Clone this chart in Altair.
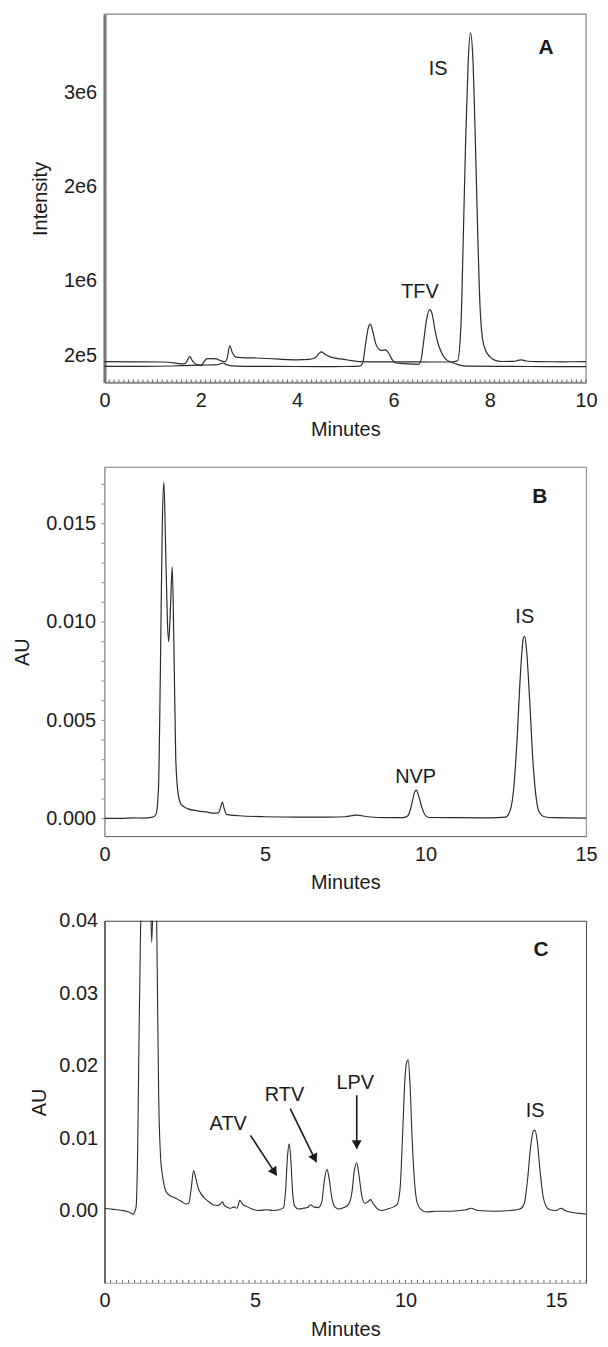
import math
import altair as alt
import pandas as pd

FONT = "Liberation Sans"
INK = "#1a1a1a"

# ---------------- Panel A (LC-MS/MS, two overlaid traces) ----------------
a_is_t = [0.0, 0.6, 1.2, 1.45, 1.6, 1.68, 1.73, 1.77, 1.82, 1.9, 2.0, 2.06, 2.12, 2.2, 2.32,
          2.4, 2.5, 2.55, 2.6, 2.65, 2.72, 2.85, 3.1, 3.4, 3.7, 4.0, 4.25, 4.38, 4.46, 4.5,
          4.58, 4.7, 4.9, 5.1, 5.3, 5.6, 6.2, 6.8, 7.2, 7.33, 7.4, 7.45, 7.5, 7.55, 7.6,
          7.65, 7.7, 7.75, 7.8, 7.85, 7.92, 8.0, 8.1, 8.25, 8.5, 8.6, 8.66, 8.75, 9.0, 9.5, 10.0]
a_is_v = [136000, 135000, 133000, 124000, 112000, 118000, 160000, 190000, 150000, 108000,
          96000, 130000, 165000, 168000, 166000, 150000, 135000, 180000, 305000, 240000,
          188000, 180000, 176000, 170000, 160000, 155000, 160000, 180000, 225000, 240000,
          215000, 185000, 165000, 150000, 137000, 134000, 134000, 133000, 133000, 145000,
          500000, 1450000, 2500000, 3300000, 3630000, 3350000, 2500000, 1500000, 700000,
          380000, 250000, 190000, 152000, 138000, 140000, 152000, 156000, 143000, 136000,
          135000, 136000]

a_tfv_t = [0.0, 0.8, 1.4, 1.7, 2.0, 2.3, 2.4, 2.46, 2.52, 2.65, 2.9, 3.5, 4.5, 5.0, 5.3,
           5.36, 5.42, 5.48, 5.52, 5.57, 5.63, 5.7, 5.76, 5.83, 5.9, 5.97, 6.05, 6.2, 6.4,
           6.52, 6.57, 6.62, 6.68, 6.75, 6.8, 6.86, 6.92, 7.0, 7.08, 7.18, 7.3, 7.42, 7.6,
           8.5, 9.2, 10.0]
a_tfv_v = [86000, 86000, 90000, 95000, 100000, 102000, 112000, 122000, 108000, 92000,
           87000, 86000, 84000, 85000, 88000, 120000, 320000, 500000, 535000, 460000,
           330000, 268000, 255000, 262000, 228000, 160000, 122000, 116000, 110000, 108000,
           150000, 320000, 560000, 690000, 650000, 480000, 340000, 230000, 165000, 135000,
           112000, 95000, 88000, 86000, 84000, 84000]

a_lab_text = ["A", "IS", "TFV"]
a_lab_t = [9.17, 6.93, 6.55]
a_lab_v = [3470000, 3250000, 880000]
a_lab_bold = ["bold", "normal", "normal"]

a_x_major = [0, 2, 4, 6, 8, 10]
a_y_major = [200000, 1000000, 2000000, 3000000]
a_x_minor = [round(i * 0.1, 1) for i in range(101)]

# ---------------- Panel B (UV, NVP) ----------------
b_t = [0.0, 0.5, 0.9, 1.2, 1.5, 1.6, 1.68, 1.74, 1.8, 1.85, 1.9, 1.96, 2.0, 2.06, 2.11,
       2.16, 2.22, 2.3, 2.4, 2.6, 2.9, 3.2, 3.4, 3.55, 3.62, 3.67, 3.73, 3.8, 4.2, 5.0,
       6.0, 7.0, 7.5, 7.85, 8.2, 8.8, 9.3, 9.45, 9.55, 9.65, 9.71, 9.78, 9.88, 9.98,
       10.1, 11.0, 12.0, 12.5, 12.65, 12.75, 12.85, 12.95, 13.05, 13.09, 13.15, 13.25,
       13.35, 13.45, 13.55, 13.7, 14.0, 15.0]
b_v = [0.00002, 0.00002, 0.00004, 0.00003, 0.00008, 0.0002, 0.0015, 0.0075, 0.0150,
       0.0171, 0.0140, 0.0100, 0.0090, 0.0110, 0.0128, 0.0090, 0.0030, 0.0012, 0.0007,
       0.0005, 0.0004, 0.00033, 0.00028, 0.0003, 0.0006, 0.00085, 0.0005, 0.00022,
       0.00015, 0.0001, 0.00008, 0.00008, 0.0001, 0.00018, 0.0001, 0.00005, 0.00005,
       0.00015, 0.0006, 0.0013, 0.00145, 0.0012, 0.0006, 0.0002, 0.00006, 0.00005,
       0.00004, 0.00008, 0.0005, 0.0016, 0.0040, 0.0072, 0.0092, 0.00927, 0.0085,
       0.0058, 0.0028, 0.0010, 0.0003, 0.0001, 0.00005, 0.00003]

b_lab_text = ["B", "IS", "NVP"]
b_lab_t = [13.56, 13.09, 9.69]
b_lab_v = [0.01637, 0.01025, 0.00212]
b_lab_bold = ["bold", "normal", "normal"]

b_x_major = [0, 5, 10, 15]
b_y_major = [0.0, 0.005, 0.010, 0.015]
b_y_minor = [round(i * 0.001, 3) for i in range(18)]

# ---------------- Panel C (UV, ATV / RTV / LPV) ----------------
c_t = [0.0, 0.2, 0.4, 0.6, 0.8, 0.9, 0.95, 1.0, 1.05, 1.1, 1.15, 1.22, 1.3, 1.45, 1.52,
       1.57, 1.62, 1.68, 1.72, 1.76, 1.8, 1.86, 1.95, 2.06, 2.2, 2.31, 2.45, 2.57, 2.7,
       2.8, 2.88, 2.96, 3.03, 3.12, 3.21, 3.3, 3.41, 3.5, 3.6, 3.75, 3.85, 3.92, 3.98,
       4.1, 4.18, 4.3, 4.4, 4.5, 4.6, 4.75, 4.9, 5.1, 5.4, 5.6, 5.8, 5.95, 6.02, 6.08,
       6.14, 6.19, 6.25, 6.32, 6.45, 6.6, 6.75, 6.84, 6.95, 7.1, 7.22, 7.3, 7.39, 7.46,
       7.55, 7.65, 7.8, 7.95, 8.1, 8.22, 8.3, 8.38, 8.45, 8.55, 8.65, 8.75, 8.84, 8.92,
       9.05, 9.2, 9.4, 9.6, 9.72, 9.82, 9.9, 9.98, 10.04, 10.09, 10.15, 10.22, 10.3,
       10.38, 10.5, 10.7, 11.0, 11.5, 12.0, 12.19, 12.4, 13.0, 13.5, 13.8, 13.95, 14.05,
       14.15, 14.25, 14.3, 14.38, 14.47, 14.57, 14.67, 14.8, 15.0, 15.17, 15.3, 15.6,
       15.8, 16.0]
c_v = [0.0003, 0.0002, 0.0001, 0.0, -0.0002, -0.0004, -0.0005, -0.0002, 0.0005, 0.008,
       0.025, 0.045, 0.060, 0.055, 0.045, 0.037, 0.045, 0.060, 0.045, 0.030, 0.016,
       0.0076, 0.0042, 0.0025, 0.0020, 0.0018, 0.0015, 0.0012, 0.0009, 0.0010, 0.0030,
       0.0055, 0.0045, 0.0030, 0.0023, 0.0018, 0.0014, 0.0011, 0.0008, 0.0007, 0.0009,
       0.0012, 0.0007, 0.0004, 0.0003, 0.0005, 0.0003, 0.0014, 0.0008, 0.0005, 0.0002,
       0.0, 0.0001, 0.0, 0.0001, 0.0004, 0.0030, 0.0075, 0.0092, 0.0070, 0.0025, 0.0006,
       0.0002, 0.0003, 0.0004, 0.0008, 0.0005, 0.0004, 0.0012, 0.0040, 0.0057, 0.0045,
       0.0018, 0.0005, 0.0002, 0.0004, 0.0008, 0.0025, 0.0055, 0.0066, 0.0050, 0.0020,
       0.0010, 0.0012, 0.0015, 0.0010, 0.0003, 0.0, 0.0002, 0.0005, 0.0008, 0.0030,
       0.0100, 0.0180, 0.0205, 0.0208, 0.0175, 0.0100, 0.0040, 0.0012, 0.0002, -0.0002,
       -0.0001, -0.0001, 0.0001, 0.0003, 0.0, -0.0001, 0.0, 0.0002, 0.0010, 0.0040,
       0.0085, 0.0110, 0.0111, 0.0095, 0.0055, 0.0020, 0.0006, 0.0001, 0.0, 0.0003, 0.0,
       -0.0003, -0.0004, -0.0005]

c_lab_text = ["C", "ATV", "RTV", "LPV", "IS"]
c_lab_t = [14.5, 4.11, 5.98, 8.33, 14.31]
c_lab_v = [0.036, 0.0120, 0.0160, 0.0176, 0.0138]
c_lab_bold = ["bold", "normal", "normal", "normal", "normal"]

c_arrow_t0 = [4.85, 6.17, 8.38]
c_arrow_v0 = [0.01038, 0.01407, 0.01592]
c_arrow_t1 = [5.72, 7.04, 8.38]
c_arrow_v1 = [0.00484, 0.00669, 0.00854]

c_x_major = [0, 5, 10, 15]
c_y_major = [0.0, 0.01, 0.02, 0.03, 0.04]
c_x_minor = [round(i * 0.2, 1) for i in range(81)]

# ---------------- geometry / scales ----------------
W = 484
A_H, B_H, C_H = 370, 371, 364
A_DOM_X, B_DOM_X, C_DOM_X = [0, 10], [0, 15], [0, 16]
A_DOM_Y = [-85000, 3826000]
B_DOM_Y = [-0.00089, 0.01788]
C_DOM_Y = [-0.01, 0.04]
TICK_PX = 3.0


def labels_layer(texts, ts, vs, weights, xs, ys):
    df = pd.DataFrame({"t": ts, "v": vs, "txt": texts, "w": weights})
    normal = alt.Chart(df[df.w == "normal"]).mark_text(
        font=FONT, fontSize=20, color=INK, align="center", baseline="middle")
    bold = alt.Chart(df[df.w == "bold"]).mark_text(
        font=FONT, fontSize=21, color=INK, fontWeight="bold", align="center", baseline="middle")
    enc = dict(x=alt.X("t:Q", scale=xs), y=alt.Y("v:Q", scale=ys), text="txt:N")
    return normal.encode(**enc) + bold.encode(**enc)


def x_minor_ticks(vals, dom_y, height, xs, ys, color):
    """small inward ticks along the bottom edge"""
    dv = TICK_PX / height * (dom_y[1] - dom_y[0])
    df = pd.DataFrame({"t": vals, "v0": dom_y[0], "v1": dom_y[0] + dv})
    return alt.Chart(df).mark_rule(color=color, strokeWidth=1).encode(
        x=alt.X("t:Q", scale=xs), y=alt.Y("v0:Q", scale=ys), y2="v1:Q")


def y_minor_ticks(vals, dom_x, width, xs, ys, color):
    """small outward ticks on the left edge"""
    dt = TICK_PX / width * (dom_x[1] - dom_x[0])
    df = pd.DataFrame({"v": vals, "t0": dom_x[0] - dt, "t1": dom_x[0]})
    return alt.Chart(df).mark_rule(color=color, strokeWidth=1).encode(
        y=alt.Y("v:Q", scale=ys), x=alt.X("t0:Q", scale=xs), x2="t1:Q")


# ---- Panel A ----
a_xs = alt.Scale(domain=A_DOM_X, nice=False, zero=False)
a_ys = alt.Scale(domain=A_DOM_Y, nice=False, zero=False)
a_df = pd.concat([
    pd.DataFrame({"t": a_is_t, "v": a_is_v, "trace": "IS"}),
    pd.DataFrame({"t": a_tfv_t, "v": a_tfv_v, "trace": "TFV"}),
])
a_line = alt.Chart(a_df).mark_line(color="#2b2b2b", strokeWidth=1.2, interpolate="monotone").encode(
    x=alt.X("t:Q", scale=a_xs, axis=alt.Axis(
        title="Minutes", values=a_x_major, format="d", ticks=False,
        domainColor="#888", domainWidth=1.5,
        labelPadding=8, titlePadding=9, labelFlush=False)),
    y=alt.Y("v:Q", scale=a_ys, axis=alt.Axis(
        title="Intensity", values=a_y_major,
        labelExpr="datum.value < 1000000 ? '2e5' : format(datum.value/1000000, 'd') + 'e6'",
        ticks=False, domainColor="#777", domainWidth=3, labelPadding=8, titlePadding=13)),
    detail="trace:N",
)
panel_a = alt.layer(
    a_line,
    x_minor_ticks(a_x_minor, A_DOM_Y, A_H, a_xs, a_ys, "#666"),
    labels_layer(a_lab_text, a_lab_t, a_lab_v, a_lab_bold, a_xs, a_ys)
).properties(width=W, height=A_H, view=alt.ViewBackground(stroke="#9a9a9a", strokeWidth=1.5))

# ---- Panel B ----
b_xs = alt.Scale(domain=B_DOM_X, nice=False, zero=False)
b_ys = alt.Scale(domain=B_DOM_Y, nice=False, zero=False)
b_line = alt.Chart(pd.DataFrame({"t": b_t, "v": b_v})).mark_line(
    color="#2b2b2b", strokeWidth=1.2, interpolate="monotone").encode(
    x=alt.X("t:Q", scale=b_xs, axis=alt.Axis(
        title="Minutes", values=b_x_major, format="d", ticks=False, domainColor="#666",
        labelPadding=8, titlePadding=9, labelFlush=False)),
    y=alt.Y("v:Q", scale=b_ys, axis=alt.Axis(
        title="AU", values=b_y_major, format=".3f",
        ticks=False, domainColor="#999", labelPadding=9, titlePadding=13)),
)
panel_b = alt.layer(
    b_line,
    y_minor_ticks(b_y_minor, B_DOM_X, W, b_xs, b_ys, "#888"),
    labels_layer(b_lab_text, b_lab_t, b_lab_v, b_lab_bold, b_xs, b_ys)
).properties(width=W, height=B_H, view=alt.ViewBackground(stroke="#9a9a9a", strokeWidth=1.2))

# ---- Panel C ----
c_xs = alt.Scale(domain=C_DOM_X, nice=False, zero=False)
c_ys = alt.Scale(domain=C_DOM_Y, nice=False, zero=False)
c_line = alt.Chart(pd.DataFrame({"t": c_t, "v": c_v})).mark_line(
    color="#2b2b2b", strokeWidth=1.1, interpolate="monotone", clip=True).encode(
    x=alt.X("t:Q", scale=c_xs, axis=alt.Axis(
        title="Minutes", values=c_x_major, format="d", ticks=False, domainColor="#bbbbbb",
        labelPadding=8, titlePadding=9, labelFlush=False)),
    y=alt.Y("v:Q", scale=c_ys, axis=alt.Axis(
        title="AU", values=c_y_major, format=".2f",
        ticks=False, domainColor="#333", labelPadding=7, titlePadding=9)),
)

# arrows: shaft + rotated triangular head (angle from pixel geometry)
px_per_t = W / (C_DOM_X[1] - C_DOM_X[0])
px_per_v = C_H / (C_DOM_Y[1] - C_DOM_Y[0])
head_t, head_v, head_ang = [], [], []
for t0, v0, t1, v1 in zip(c_arrow_t0, c_arrow_v0, c_arrow_t1, c_arrow_v1):
    dx = (t1 - t0) * px_per_t
    dy = -(v1 - v0) * px_per_v  # screen y grows downward
    ln = math.hypot(dx, dy)
    ux, uy = dx / ln, dy / ln
    back = 4.0
    head_t.append(t1 - ux * back / px_per_t)
    head_v.append(v1 + uy * back / px_per_v)
    head_ang.append((-math.degrees(math.atan2(dx, dy))) % 360)

arr_df = pd.DataFrame({"t0": c_arrow_t0, "v0": c_arrow_v0, "t1": c_arrow_t1, "v1": c_arrow_v1,
                       "ht": head_t, "hv": head_v, "ang": head_ang})
c_shaft = alt.Chart(arr_df).mark_rule(color=INK, strokeWidth=1.6).encode(
    x=alt.X("t0:Q", scale=c_xs), y=alt.Y("v0:Q", scale=c_ys), x2="t1:Q", y2="v1:Q")
c_head = alt.Chart(arr_df).mark_point(shape="triangle-down", filled=True, color=INK,
                                      opacity=1, size=100).encode(
    x=alt.X("ht:Q", scale=c_xs), y=alt.Y("hv:Q", scale=c_ys),
    angle=alt.Angle("ang:Q", scale=None))

panel_c = alt.layer(
    c_line, c_shaft, c_head,
    x_minor_ticks(c_x_minor, C_DOM_Y, C_H, c_xs, c_ys, "#666"),
    labels_layer(c_lab_text, c_lab_t, c_lab_v, c_lab_bold, c_xs, c_ys)
).properties(width=W, height=C_H, view=alt.ViewBackground(stroke="#444", strokeWidth=1))

chart = alt.vconcat(panel_a, panel_b, panel_c, spacing=85, bounds="flush").properties(
    padding={"left": 4, "top": 2, "right": 2, "bottom": 2}
).configure_axis(
    labelFont=FONT, titleFont=FONT, labelFontSize=20, titleFontSize=20,
    titleFontWeight="normal", labelColor=INK, titleColor=INK, grid=False
).configure_view(stroke="#9a9a9a")

chart.save("out.html", embed_options={"renderer": "svg", "actions": False})
